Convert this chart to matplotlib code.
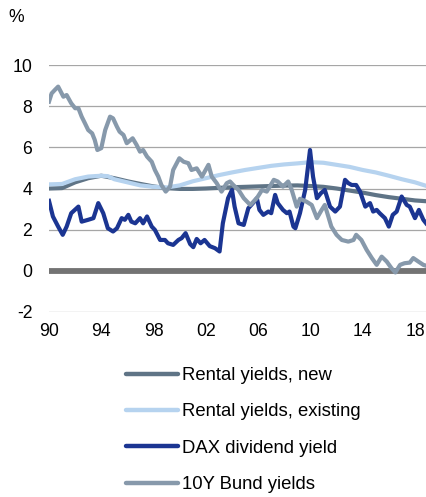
import matplotlib
matplotlib.use("Agg")
import matplotlib.pyplot as plt

plt.rcParams['font.family'] = ['Liberation Sans', 'DejaVu Sans']
plt.rcParams['axes.unicode_minus'] = False

# ---- data ----
new_x = [1990, 1991, 1992, 1993, 1994, 1995, 1996, 1997, 1998, 1999, 2000, 2001, 2002,
         2003, 2004, 2005, 2006, 2007, 2008, 2009, 2010, 2011, 2012, 2013, 2014, 2015,
         2016, 2017, 2018, 2018.9]
new_y = [4.0, 4.02, 4.3, 4.5, 4.62, 4.5, 4.35, 4.22, 4.1, 4.02, 3.98, 3.98, 4.0,
         4.03, 4.06, 4.08, 4.1, 4.12, 4.14, 4.15, 4.12, 4.08, 4.0, 3.9, 3.8, 3.68,
         3.58, 3.5, 3.42, 3.38]

ex_x = [1990, 1991, 1992, 1993, 1994, 1994.5, 1995, 1996, 1997, 1998, 1999, 2000, 2001,
        2002, 2003, 2004, 2005, 2006, 2007, 2008, 2009, 2010, 2011, 2012, 2013, 2014,
        2015, 2016, 2017, 2018, 2018.9]
ex_y = [4.2, 4.22, 4.45, 4.58, 4.62, 4.6, 4.45, 4.3, 4.15, 4.08, 4.05, 4.15, 4.35,
        4.5, 4.65, 4.78, 4.9, 5.0, 5.1, 5.17, 5.22, 5.28, 5.25, 5.15, 5.05, 4.9,
        4.78, 4.62, 4.45, 4.3, 4.12]

dax_x = [1990.0, 1990.3, 1990.7, 1991.05, 1991.35, 1991.7, 1992.25, 1992.5, 1993.0, 1993.4,
         1993.77, 1994.15, 1994.5, 1994.9, 1995.2, 1995.56, 1995.8, 1996.07, 1996.3, 1996.6,
         1996.96, 1997.2, 1997.5, 1997.86, 1998.1, 1998.5, 1998.87, 1999.1, 1999.5, 1999.9,
         2000.15, 2000.45, 2000.8, 2001.04, 2001.3, 2001.6, 2001.9, 2002.3, 2002.7, 2003.05,
         2003.3, 2003.7, 2004.0, 2004.2, 2004.5, 2004.9, 2005.25, 2005.6, 2005.9, 2006.1,
         2006.4, 2006.78, 2007.0, 2007.3, 2007.5, 2007.9, 2008.2, 2008.4, 2008.7, 2008.85,
         2009.2, 2009.6, 2009.97, 2010.2, 2010.5, 2010.8, 2011.1, 2011.5, 2011.9, 2012.26,
         2012.65, 2012.9, 2013.16, 2013.5, 2013.8, 2014.2, 2014.56, 2014.8, 2015.07, 2015.3,
         2015.7, 2016.0, 2016.3, 2016.6, 2016.98, 2017.37, 2017.6, 2018.0, 2018.3, 2018.64,
         2018.85]
dax_y = [3.4, 2.64, 2.15, 1.75, 2.15, 2.8, 3.12, 2.39, 2.48, 2.56,
         3.29, 2.8, 2.07, 1.91, 2.07, 2.56, 2.48, 2.72, 2.39, 2.31,
         2.56, 2.31, 2.64, 2.15, 1.99, 1.5, 1.5, 1.34, 1.26, 1.5,
         1.59, 1.83, 1.3, 1.15, 1.55, 1.34, 1.5, 1.2, 1.1, 0.94,
         2.31, 3.53, 3.93, 3.12, 2.31, 2.23, 3.04, 3.29, 3.53, 2.96,
         2.72, 2.88, 2.8, 3.69, 3.29, 2.96, 2.8, 2.88, 2.15, 2.07,
         2.8, 3.93, 5.87, 4.58, 3.53, 3.77, 3.93, 3.12, 2.88, 3.12,
         4.42, 4.26, 4.17, 4.17, 3.85, 3.12, 3.29, 2.88, 2.96, 2.8,
         2.56, 2.15, 2.72, 2.88, 3.61, 3.2, 3.12, 2.56, 2.96, 2.48,
         2.31]

bund_x = [1990.0, 1990.2, 1990.45, 1990.7, 1991.1, 1991.35, 1991.7, 1992.0, 1992.25, 1992.5,
          1992.75, 1993.0, 1993.3, 1993.5, 1993.7, 1994.0, 1994.3, 1994.67, 1994.9, 1995.2,
          1995.4, 1995.7, 1995.95, 1996.4, 1996.7, 1996.96, 1997.2, 1997.5, 1997.86, 1998.1,
          1998.36, 1998.6, 1998.93, 1999.26, 1999.5, 1999.97, 2000.3, 2000.66, 2000.9, 2001.3,
          2001.7, 2002.2, 2002.45, 2002.83, 2003.2, 2003.6, 2003.85, 2004.1, 2004.5, 2004.9,
          2005.4, 2005.9, 2006.3, 2006.66, 2007.2, 2007.5, 2007.9, 2008.3, 2008.57, 2008.95,
          2009.2, 2009.7, 2010.1, 2010.5, 2010.86, 2011.1, 2011.37, 2011.6, 2012.0, 2012.4,
          2012.9, 2013.3, 2013.5, 2013.9, 2014.3, 2014.7, 2015.07, 2015.45, 2015.84, 2016.2,
          2016.5, 2016.86, 2017.2, 2017.6, 2017.87, 2018.26, 2018.64, 2018.9]
bund_y = [8.22, 8.62, 8.79, 8.95, 8.46, 8.54, 8.14, 7.9, 7.9, 7.49,
          7.17, 6.84, 6.68, 6.36, 5.87, 5.96, 6.84, 7.49, 7.41, 7.0,
          6.76, 6.6, 6.2, 6.44, 6.12, 5.79, 5.87, 5.55, 5.3, 4.9,
          4.58, 4.17, 3.85, 4.09, 4.9, 5.47, 5.3, 5.23, 4.9, 4.98,
          4.58, 5.15, 4.58, 4.26, 3.85, 4.26, 4.34, 4.17, 3.93, 3.53,
          3.2, 3.53, 3.93, 3.85, 4.42, 4.34, 4.09, 4.34, 3.93, 3.12,
          3.5, 3.36, 3.2, 2.56, 2.96, 3.2, 2.64, 2.15, 1.75, 1.5,
          1.42, 1.5, 1.75, 1.5, 1.02, 0.62, 0.29, 0.69, 0.45, 0.13,
          -0.08, 0.29, 0.37, 0.4, 0.62, 0.45, 0.29, 0.24]

labels = ["Rental yields, new", "Rental yields, existing", "DAX dividend yield", "10Y Bund yields"]
colors = ["#5F7486", "#B6D3EF", "#1B3592", "#8799AB"]

xtick_pos = [1990, 1994, 1998, 2002, 2006, 2010, 2014, 2018]
xtick_lab = ["90", "94", "98", "02", "06", "10", "14", "18"]
ytick_pos = [-2, 0, 2, 4, 6, 8, 10]

# ---- figure ----
W, H = 427, 497
fig = plt.figure(figsize=(W / 100, H / 100), dpi=100)
left, right, top, bottom = 49, 427, 65, 312
ax = fig.add_axes([left / W, 1 - bottom / H, (right - left) / W, (bottom - top) / H])

for y in ytick_pos:
    if y != 0:
        ax.axhline(y, color="#A6A6A6", lw=0.9, zorder=1)
ax.axhline(0, color="#737373", lw=4.2, zorder=2, solid_capstyle="butt")

lw = 3.0
series = [(new_x, new_y), (ex_x, ex_y), (dax_x, dax_y), (bund_x, bund_y)]
for i, ((xs, ys), lab, c) in enumerate(zip(series, labels, colors)):
    ax.plot(xs, ys, color=c, lw=lw, label=lab, zorder=3 + i, solid_joinstyle="round")

ax.set_xlim(1990, 2018.92)
ax.set_ylim(-2, 10)
ax.set_xticks(xtick_pos)
ax.set_xticklabels(xtick_lab)
ax.set_yticks(ytick_pos)
ax.set_yticklabels([str(v) for v in ytick_pos])
ax.tick_params(axis="both", length=0, labelsize=12.7, colors="black")
ax.tick_params(axis="y", pad=12)
ax.tick_params(axis="x", pad=8)
for s in ax.spines.values():
    s.set_visible(False)

fig.text(16.5 / W, 1 - 18 / H, "%", fontsize=12.7, ha="center", va="center")

leg = fig.legend(loc="upper left", bbox_to_anchor=(126 / W, 1 - 367 / H),
                 frameon=False, fontsize=13.3, handlelength=2.8, handletextpad=0.22,
                 labelspacing=1.05, borderaxespad=0, borderpad=0)
for line in leg.get_lines():
    line.set_linewidth(3.2)
    line.set_solid_capstyle("round")

fig.savefig("out.png", dpi=100)
